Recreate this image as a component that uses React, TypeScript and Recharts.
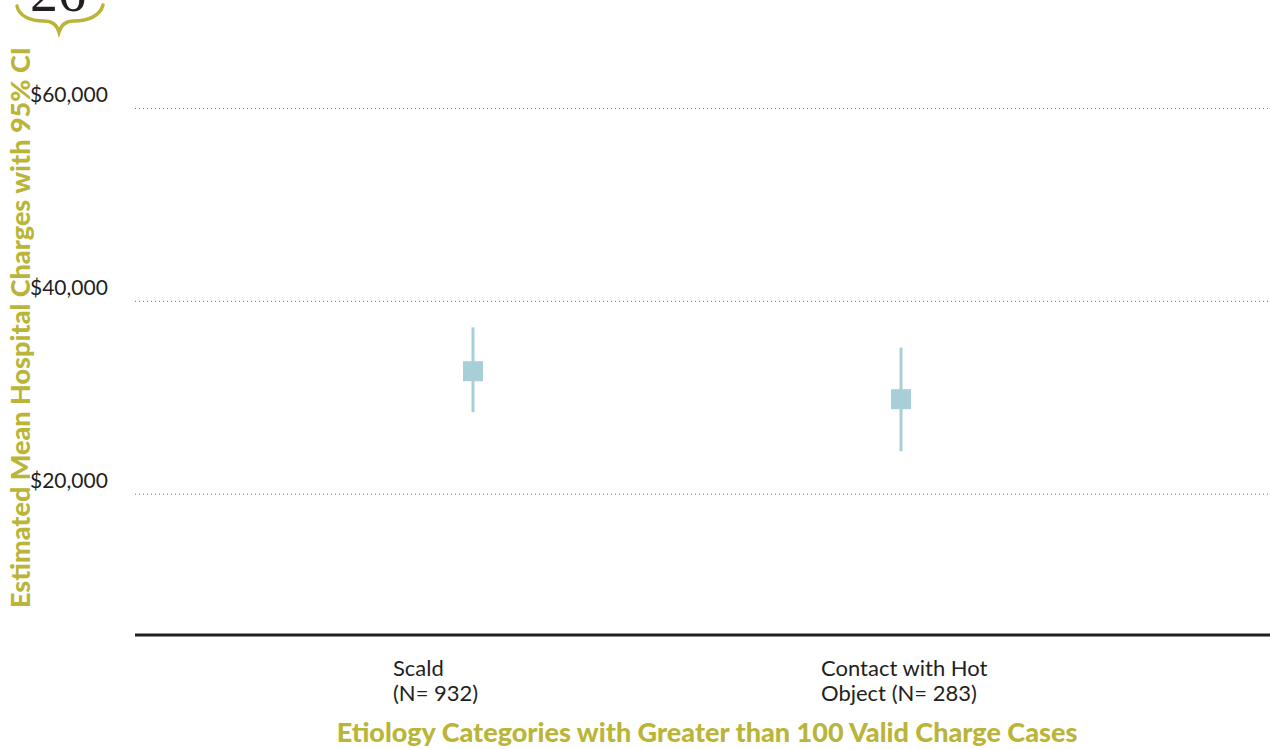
import React from 'react';
import {
  ComposedChart,
  Scatter,
  ErrorBar,
  XAxis,
  YAxis,
  CartesianGrid
} from 'recharts';

// etiology categories and their tick captions (two lines each)
const categories = ['Scald', 'Contact with Hot Object'];
const tickLines = [
  ['Scald', '(N= 932)'],
  ['Contact with Hot', 'Object (N= 283)']
];

// estimated mean charges with 95% confidence limits
const means = [32750, 29850];
const lower = [28500, 24450];
const upper = [37300, 35200];

const yTicks = [20000, 40000, 60000];

const OLIVE = '#bab539';
const MARK = '#a8cfd8';
const FONT = 'Lato, "Open Sans", sans-serif';

const data = categories.map((name, i) => ({
  name,
  mean: means[i],
  err: [means[i] - lower[i], upper[i] - means[i]]
}));

const formatMoney = (v: number) => `$${v.toLocaleString('en-US')}`;

function YTick({ y, payload }: any) {
  return (
    <text
      x={30}
      y={y - 15}
      dominantBaseline="central"
      textAnchor="start"
      fontFamily={FONT}
      fontSize={21}
      fill="#231f20"
    >
      {formatMoney(payload.value)}
    </text>
  );
}

function XTick({ x, y, index }: any) {
  const lines = tickLines[index] || [];
  return (
    <text x={x - 80} y={y} fontFamily={FONT} fontSize={22} fill="#231f20">
      {lines.map((line, i) => (
        <tspan key={i} x={x - 80} dy={i === 0 ? 39 : 25}>
          {line}
        </tspan>
      ))}
    </text>
  );
}

function BoxMarker({ cx, cy }: any) {
  return <rect x={cx - 10} y={cy - 10} width={20} height={20} fill={MARK} />;
}

const yTitle = ({ viewBox }: any) => {
  const cx = 19;
  const cy = viewBox.y + viewBox.height / 2 + 4;
  return (
    <text
      x={cx}
      y={cy}
      transform={`rotate(-90, ${cx}, ${cy})`}
      textAnchor="middle"
      dominantBaseline="central"
      fontFamily={FONT}
      fontWeight={900}
      fontSize={27}
      fill={OLIVE}
    >
      Estimated Mean Hospital Charges with 95% CI
    </text>
  );
};

const xTitle = ({ viewBox }: any) => (
  <text
    x={707}
    y={viewBox.y + 107}
    textAnchor="middle"
    fontFamily={FONT}
    fontWeight={900}
    fontSize={27}
    fill={OLIVE}
  >
    Etiology Categories with Greater than 100 Valid Charge Cases
  </text>
);

export default function App() {
  return (
    <div style={{ position: 'absolute', left: 0, top: 0, width: 1270, height: 749, background: '#fff' }}>
      <ComposedChart
        width={1270}
        height={749}
        data={data}
        margin={{ top: 12, right: 0, bottom: 0, left: 0 }}
      >
        <CartesianGrid
          horizontal
          vertical={false}
          horizontalValues={yTicks}
          stroke="#6d6e71"
          strokeDasharray="1 3"
        />
        <XAxis
          dataKey="name"
          type="category"
          scale="point"
          padding={{ left: 338, right: 369 }}
          height={114}
          axisLine={{ stroke: '#231f20', strokeWidth: 3 }}
          tickLine={false}
          tickSize={0}
          tick={<XTick />}
          interval={0}
          label={xTitle}
        />
        <YAxis
          type="number"
          domain={[5400, 70000]}
          ticks={yTicks}
          allowDataOverflow
          width={135}
          axisLine={false}
          tickLine={false}
          tick={<YTick />}
          label={yTitle}
        />
        <Scatter dataKey="mean" shape={<BoxMarker />} isAnimationActive={false}>
          <ErrorBar
            dataKey="err"
            direction="y"
            width={0}
            stroke={MARK}
            strokeWidth={3}
            isAnimationActive={false}
          />
        </Scatter>
      </ComposedChart>
      {/* page number with ornament */}
      <svg
        width={120}
        height={40}
        style={{ position: 'absolute', left: 0, top: 0 }}
      >
        <text x={30} y={11} fontFamily='"Liberation Serif", serif' fontSize={56} fill="#231f20">
          26
        </text>
        <path
          d="M17,6 C19,16 30,21 44,21 C52,21 57,25 59,32 C61,25 66,21 74,21 C88,21 100,16 103,5"
          fill="none"
          stroke={OLIVE}
          strokeWidth={3.5}
          strokeLinecap="round"
        />
      </svg>
    </div>
  );
}
